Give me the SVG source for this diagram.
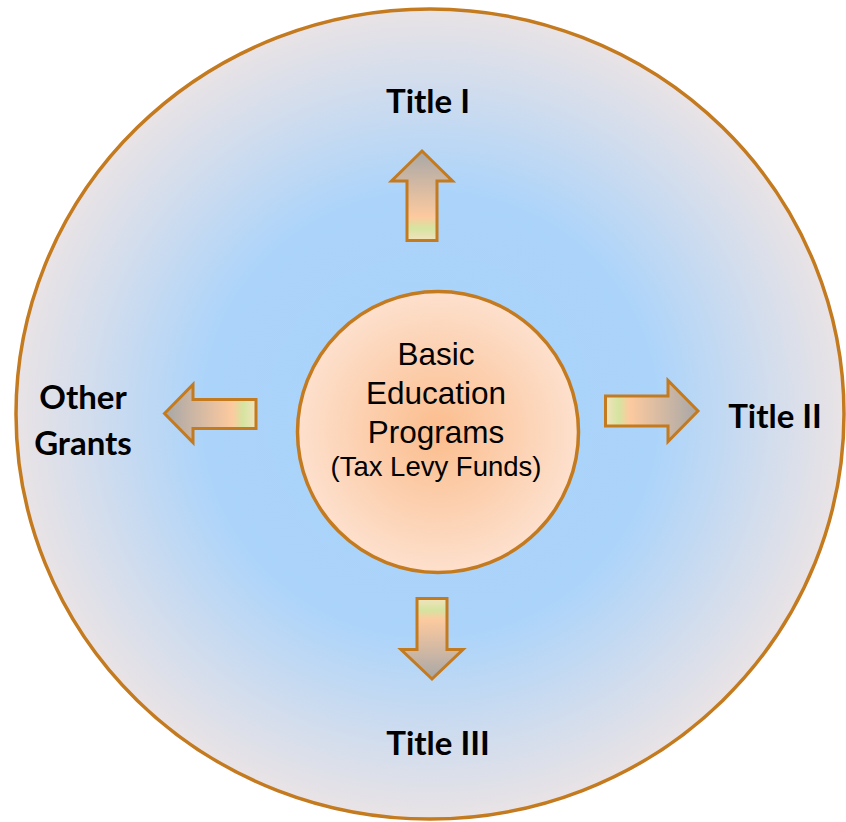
<svg xmlns="http://www.w3.org/2000/svg" width="846" height="822" viewBox="0 0 846 822">
<defs>
<radialGradient id="outerFill" cx="0.5" cy="0.5" r="0.5">
<stop offset="0" stop-color="#a8d2fc"/>
<stop offset="0.55" stop-color="#acd4fa"/>
<stop offset="0.8" stop-color="#cfdcee"/>
<stop offset="1" stop-color="#e9e3e5"/>
</radialGradient>
<radialGradient id="innerFill" cx="0.5" cy="0.5" r="0.5">
<stop offset="0" stop-color="#fbbd8d"/>
<stop offset="1" stop-color="#fde0cd"/>
</radialGradient>
<linearGradient id="gUp" x1="0" y1="1" x2="0" y2="0">
<stop offset="0" stop-color="#f3e3bd"/>
<stop offset="0.14" stop-color="#d5e4a0"/>
<stop offset="0.26" stop-color="#fdca9f"/>
<stop offset="1" stop-color="#a7a7a7"/>
</linearGradient>
<linearGradient id="gDown" x1="0" y1="0" x2="0" y2="1">
<stop offset="0" stop-color="#f3e3bd"/>
<stop offset="0.14" stop-color="#d5e4a0"/>
<stop offset="0.26" stop-color="#fdca9f"/>
<stop offset="1" stop-color="#a7a7a7"/>
</linearGradient>
<linearGradient id="gRight" x1="0" y1="0" x2="1" y2="0">
<stop offset="0" stop-color="#f3e3bd"/>
<stop offset="0.14" stop-color="#d5e4a0"/>
<stop offset="0.26" stop-color="#fdca9f"/>
<stop offset="1" stop-color="#a7a7a7"/>
</linearGradient>
<linearGradient id="gLeft" x1="1" y1="0" x2="0" y2="0">
<stop offset="0" stop-color="#f3e3bd"/>
<stop offset="0.14" stop-color="#d5e4a0"/>
<stop offset="0.26" stop-color="#fdca9f"/>
<stop offset="1" stop-color="#a7a7a7"/>
</linearGradient>
</defs>
<style>
.ring{stroke:#c47a1e;stroke-width:3.5}
.arrow{stroke:#c47a1e;stroke-width:3;stroke-linejoin:miter}
.lbl{font-family:Lato,"Open Sans",sans-serif;font-weight:bold;font-size:33px;fill:#000;text-anchor:middle}
.ctr{font-family:"Liberation Sans",Arial,sans-serif;font-size:31.5px;fill:#000;text-anchor:middle}
.sub{font-family:"Liberation Sans",Arial,sans-serif;font-size:27.5px;fill:#000;text-anchor:middle}
</style>
<rect width="846" height="822" fill="#ffffff"/>
<g id="outer">
<ellipse class="ring" cx="430" cy="414" rx="414" ry="405" fill="url(#outerFill)"/>
</g>
<g id="connectors">
<polygon class="arrow" fill="url(#gUp)" points="422,151 452.5,181 437,181 437,240.5 407,240.5 407,181 391.5,181"/>
<polygon class="arrow" fill="url(#gRight)" points="698,411 668,441.5 668,426 605.5,426 605.5,396 668,396 668,380.5"/>
<polygon class="arrow" fill="url(#gLeft)" points="164.5,413.5 193,384.5 193,399.5 256,399.5 256,428.5 193,428.5 193,442.5"/>
<polygon class="arrow" fill="url(#gDown)" points="432,679 463,649.5 447,649.5 447,598.5 417,598.5 417,649.5 401,649.5"/>
</g>
<g id="center">
<circle class="ring" cx="438" cy="432" r="140.5" fill="url(#innerFill)"/>
<text class="ctr" x="436" y="365">Basic</text>
<text class="ctr" x="436" y="404">Education</text>
<text class="ctr" x="436" y="443">Programs</text>
<text class="sub" x="436" y="476">(Tax Levy Funds)</text>
</g>
<g id="title1"><text class="lbl" x="428" y="113">Title I</text></g>
<g id="title2"><text class="lbl" x="775" y="428">Title II</text></g>
<g id="title3"><text class="lbl" x="438" y="755">Title III</text></g>
<g id="other"><text class="lbl" x="83" y="409">Other</text><text class="lbl" x="83" y="455">Grants</text></g>
</svg>
